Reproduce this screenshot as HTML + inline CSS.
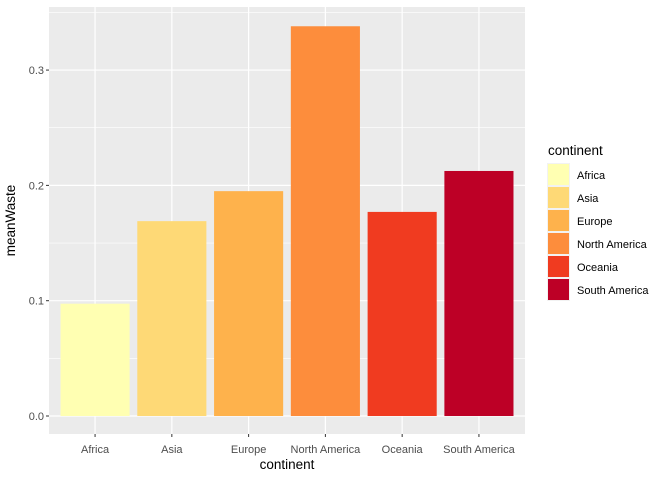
<!DOCTYPE html>
<html><head><meta charset="utf-8"><style>body{margin:0;background:#fff}svg text{font-family:"Liberation Sans",Arial,sans-serif}</style></head>
<body>
<svg id="c" width="672" height="480" xmlns="http://www.w3.org/2000/svg"></svg>
<script>
const categories=["Africa","Asia","Europe","North America","Oceania","South America"];
const values=[0.0974,0.169,0.195,0.338,0.177,0.2125];
const colors=["#FFFFB2","#FED976","#FEB24C","#FD8D3C","#F03B20","#BD0026"];
const yTicks=[0,0.1,0.2,0.3];
const yTickLabels=["0.0","0.1","0.2","0.3"];
const NS="http://www.w3.org/2000/svg";
const svg=document.getElementById('c');
const L=49,R=525,T=7,B=434,ymin=-0.0156,ymax=0.3547;
const y=v=>B-(v-ymin)/(ymax-ymin)*(B-T);
const step=(R-L)/(categories.length-1+1.2);
const x=i=>L+step*(i+0.6);
function mk(t,a,p){const e=document.createElementNS(NS,t);for(const k in a)e.setAttribute(k,a[k]);(p||svg).appendChild(e);return e;}
const bg=mk('rect',{x:L,y:T,width:R-L,height:B-T,fill:'#EBEBEB'});


for(let i=0;i<yTicks.length-1;i++){const m=(yTicks[i]+yTicks[i+1])/2;mk('line',{x1:L,x2:R,y1:y(m),y2:y(m),stroke:'#fff','stroke-width':0.6});}
{const m=yTicks[yTicks.length-1]+0.05;if(m<ymax)mk('line',{x1:L,x2:R,y1:y(m),y2:y(m),stroke:'#fff','stroke-width':0.6});}
yTicks.forEach((v,i)=>{
 const g=mk('line',{x1:L,x2:R,y1:y(v),y2:y(v),stroke:'#fff','stroke-width':1.2});
 
 
 mk('line',{x1:L-3,x2:L,y1:y(v),y2:y(v),stroke:'#333'});
 const t=mk('text',{x:L-5,y:y(v)+4,'text-anchor':'end','font-size':11,fill:'#4D4D4D'});t.textContent=yTickLabels[i];
 
 
});
categories.forEach((c,i)=>{
 mk('line',{x1:x(i),x2:x(i),y1:T,y2:B,stroke:'#fff','stroke-width':1.2});
 const w=step*0.9;
 const b=mk('rect',{x:x(i)-w/2,y:y(values[i]),width:w,height:y(0)-y(values[i]),fill:colors[i]});
 
 
 mk('line',{x1:x(i),x2:x(i),y1:B,y2:B+3,stroke:'#333'});
 const t=mk('text',{x:x(i),y:B+19,'text-anchor':'middle','font-size':11,fill:'#4D4D4D'});t.textContent=c;
 
 
});
const xt=mk('text',{x:(L+R)/2,y:469,'text-anchor':'middle','font-size':13.5,fill:'#000'});xt.textContent='continent';


const yt=mk('text',{x:0,y:0,transform:`translate(15,${(T+B)/2}) rotate(-90)`,'text-anchor':'middle','font-size':13.5,fill:'#000'});yt.textContent='meanWaste';


const lt=mk('text',{x:548,y:155,'font-size':13.5,fill:'#000'});lt.textContent='continent';


categories.forEach((c,i)=>{
 const yy=163+i*23;
 mk('rect',{x:547,y:yy,width:23,height:23,fill:'#F2F2F2'});
 const k=mk('rect',{x:548,y:yy+1,width:21,height:21,fill:colors[i]});
 
 
 const t=mk('text',{x:577,y:yy+16,'font-size':11,fill:'#000'});t.textContent=c;
 
 
});
</script>
</body></html>
